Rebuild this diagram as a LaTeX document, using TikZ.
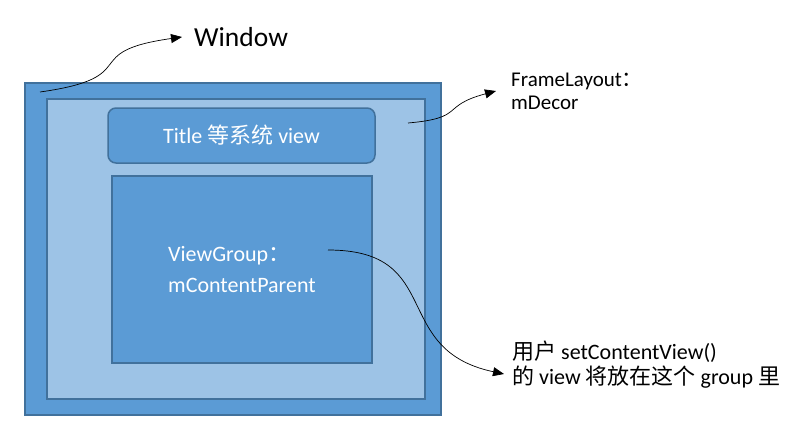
\documentclass[tikz,border=0pt]{standalone}
\usepackage{fontspec}
\setmainfont{Carlito}
\newfontfamily\cjk{Noto Sans CJK SC}
\usetikzlibrary{arrows.meta}
\definecolor{boxblue}{HTML}{5B9BD5}
\definecolor{lightblue}{HTML}{9DC3E6}
\definecolor{edgeblue}{HTML}{41719C}
\tikzset{
  layer/.style={draw=edgeblue, line width=1.5pt, inner sep=0pt},
  caption/.style={anchor=west, align=left, inner xsep=0pt, font=\fontsize{22}{24}\selectfont},
  pointer/.style={-{Triangle[length=11pt,width=9pt]}, line width=0.7pt},
}
\begin{document}
\begin{tikzpicture}[x=1pt,y=-1pt]
      \useasboundingbox (0,0) rectangle (809,442);
      % nested layers
      \node[layer, fill=boxblue, minimum width=416pt, minimum height=332pt] (win) at (233,249) {};
      \node[layer, fill=lightblue, minimum width=378pt, minimum height=300pt] (decor) at (236,249) {};
      \node[layer, fill=boxblue, rounded corners=8pt, minimum width=267pt, minimum height=55pt,
            text=white, font=\fontsize{22}{24}\selectfont] (title) at (241.5,135.5) {Title {\cjk 等系统} view};
      \node[layer, fill=boxblue, minimum width=260pt, minimum height=187pt, align=left,
            text=white, font=\fontsize{22}{31}\selectfont] (content) at (242,269.5) {ViewGroup{\cjk ：}\\mContentParent};
      % captions
      \node[caption, font=\fontsize{27.5}{30}\selectfont] (winlabel) at (194,37) {Window};
      \node[caption, font=\fontsize{21}{23}\selectfont] (decorlabel) at (511,91) {FrameLayout{\cjk ：}\\mDecor};
      \node[caption, font=\fontsize{22}{25}\selectfont] (userlabel) at (512,365) {{\cjk 用户} setContentView()\\{\cjk 的} view {\cjk 将放在这个} group {\cjk 里}};
      % pointers
      \coordinate (wintail) at (40,92);
      \coordinate (decortail) at (408,123);
      \coordinate (contenttail) at (328,250);
      \draw[pointer] (wintail) to[out=8,in=188,looseness=1.8] ([xshift=-12pt]winlabel.west);
      \draw[pointer] (decortail) to[out=5,in=195,looseness=1.6] ([xshift=-15pt]decorlabel.west);
      \draw[pointer] (contenttail) to[out=0,in=168,looseness=1.4] ([xshift=-8pt,yshift=-9pt]userlabel.west);
    \end{tikzpicture}
\end{document}
